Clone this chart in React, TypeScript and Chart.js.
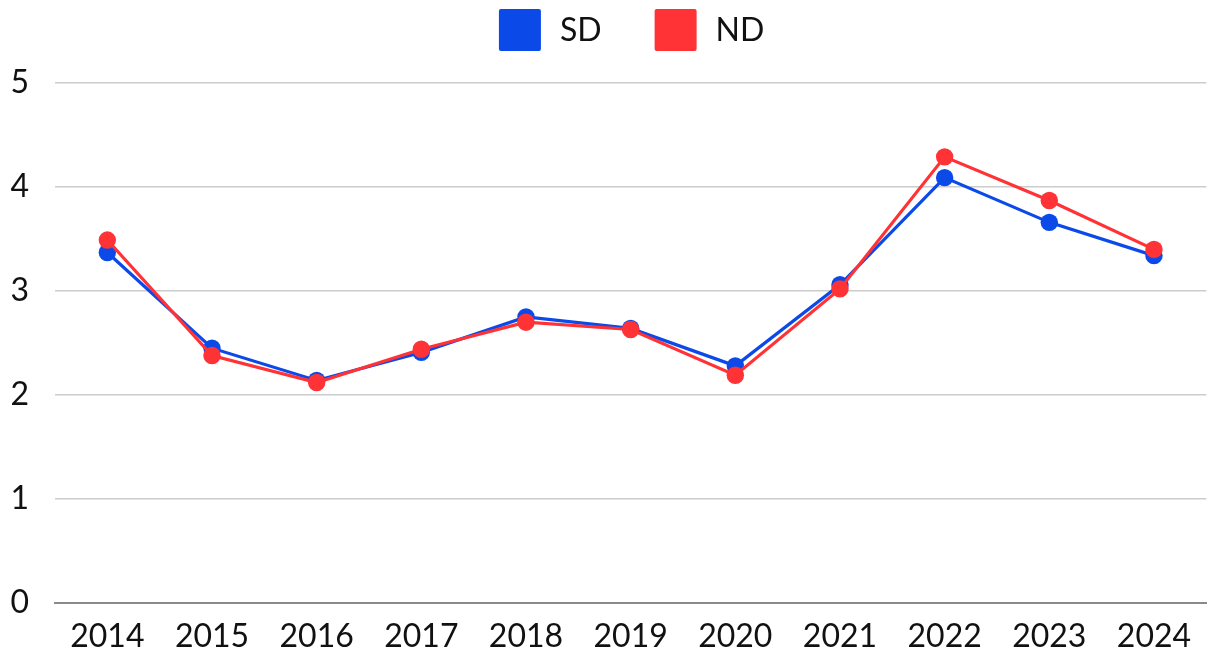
import React, { useEffect, useRef } from "react";
import { Chart, registerables } from "chart.js";

Chart.register(...registerables);

const years = ["2014", "2015", "2016", "2017", "2018", "2019", "2020", "2021", "2022", "2023", "2024"];
const sdValues = [3.37, 2.45, 2.14, 2.41, 2.75, 2.64, 2.28, 3.06, 4.09, 3.66, 3.34];
const ndValues = [3.49, 2.38, 2.12, 2.44, 2.7, 2.63, 2.19, 3.02, 4.29, 3.87, 3.4];
const yTicks = [0, 1, 2, 3, 4, 5];

const SD_COLOR = "#0B4AE8";
const ND_COLOR = "#FF3236";
const FONT = "Lato, 'DejaVu Sans', sans-serif";
const FONT_SIZE = 32;

// Legend drawn on the canvas from the datasets' labels and colours
const topLegend = {
  id: "topLegend",
  afterDraw(chart: any) {
    const ctx = chart.ctx;
    const box = 42;
    const textGap = 19;
    const itemGap = 53;
    const centerY = 30;
    ctx.save();
    ctx.font = `${FONT_SIZE}px ${FONT}`;
    ctx.textBaseline = "middle";
    ctx.textAlign = "left";
    const items = chart.data.datasets.map((ds: any) => ({
      label: ds.label,
      color: ds.borderColor,
      w: box + textGap + ctx.measureText(ds.label).width,
    }));
    const total = items.reduce((s: number, it: any) => s + it.w, 0) + itemGap * (items.length - 1);
    const ca = chart.chartArea;
    let x = (ca.left + ca.right) / 2 + 1 - total / 2;
    for (const it of items) {
      ctx.fillStyle = it.color;
      ctx.beginPath();
      if (ctx.roundRect) ctx.roundRect(x, centerY - box / 2, box, box, 2);
      else ctx.rect(x, centerY - box / 2, box, box);
      ctx.fill();
      ctx.fillStyle = "#111";
      ctx.fillText(it.label, x + box + textGap, centerY + 1);
      x += it.w + itemGap;
    }
    ctx.restore();
  },
};

export default function App() {
  const ref = useRef<HTMLCanvasElement>(null);

  useEffect(() => {
    document.body.style.margin = "0";
    document.body.style.overflow = "hidden";
    const ctx = ref.current;
    if (!ctx) return;
    const chart = new Chart(ctx, {
      type: "line",
      data: {
        labels: years,
        datasets: [
          {
            label: "SD",
            data: sdValues,
            borderColor: SD_COLOR,
            backgroundColor: SD_COLOR,
            pointBackgroundColor: SD_COLOR,
            pointBorderWidth: 0,
            pointRadius: 8.7,
            borderWidth: 3.2,
            tension: 0,
            order: 1,
          },
          {
            label: "ND",
            data: ndValues,
            borderColor: ND_COLOR,
            backgroundColor: ND_COLOR,
            pointBackgroundColor: ND_COLOR,
            pointBorderWidth: 0,
            pointRadius: 8.7,
            borderWidth: 3.2,
            tension: 0,
            order: 0,
          },
        ],
      },
      plugins: [topLegend],
      options: {
        animation: false,
        responsive: true,
        maintainAspectRatio: false,
        layout: { padding: { left: 0, top: 83, right: 0, bottom: 0 } },
        plugins: {
          tooltip: { enabled: false },
          legend: { display: false },
        },
        scales: {
          x: {
            offset: true,
            afterFit: (axis: any) => {
              axis.height = 53;
            },
            grid: { display: false, drawTicks: false },
            border: { display: true, color: "#8A8A8A", width: 2 },
            ticks: { color: "#111", font: { family: FONT, size: FONT_SIZE }, padding: 14, maxRotation: 0, autoSkip: false },
          },
          y: {
            min: 0,
            max: 5,
            afterBuildTicks: (axis: any) => {
              axis.ticks = yTicks.map((v) => ({ value: v }));
            },
            afterFit: (axis: any) => {
              axis.width = 55;
            },
            grid: { color: "#CCCCCC", lineWidth: 1.5, drawTicks: false },
            border: { display: false },
            ticks: { color: "#111", font: { family: FONT, size: FONT_SIZE }, padding: 26 },
          },
        },
      },
    });
    return () => chart.destroy();
  }, []);

  return (
    <div style={{ position: "absolute", left: 0, top: 0, width: 1209, height: 656, overflow: "hidden", background: "#fff" }}>
      <div style={{ position: "relative", width: 1215, height: 656 }}>
        <canvas ref={ref} />
      </div>
    </div>
  );
}
